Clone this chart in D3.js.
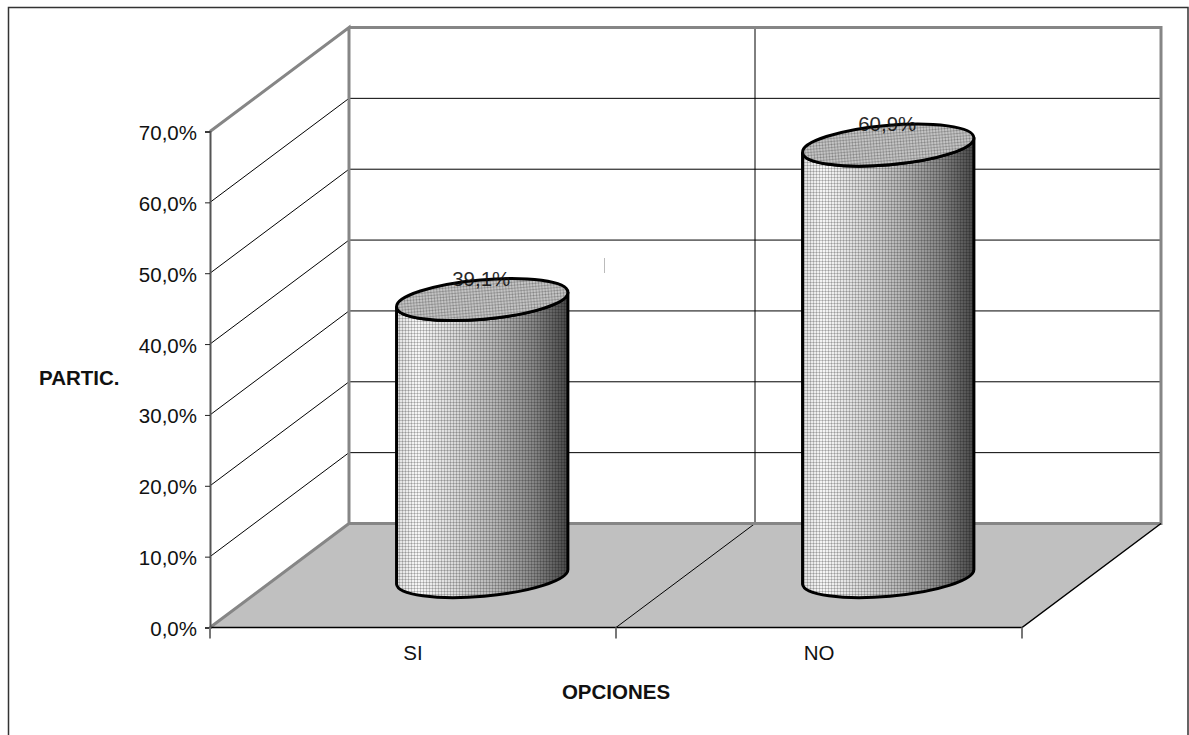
<!DOCTYPE html>
<html>
<head>
<meta charset="utf-8">
<script src="https://cdn.jsdelivr.net/npm/d3@7"></script>
<style>
  html, body { margin: 0; padding: 0; background: #fff; overflow: hidden; }
  svg { display: block; }
  text { font-family: "Liberation Sans", Arial, sans-serif; fill: #111; }
</style>
</head>
<body>
<div id="chart"></div>
<script>
// data
var categories = ["SI", "NO"];
var values = [39.1, 60.9];
var valueLabels = ["39,1%", "60,9%"];
var yTicks = [0, 10, 20, 30, 40, 50, 60, 70];
var yTickLabels = ["0,0%", "10,0%", "20,0%", "30,0%", "40,0%", "50,0%", "60,0%", "70,0%"];
var xTitle = "OPCIONES";
var yTitle = "PARTIC.";

// layout
var totalWidth = 1189, totalHeight = 735;
var x0 = 210, x1 = 1022, y0 = 627.5, y1 = 131.5;
var depthX = 139, depthY = 104;   // offset of the back wall
var midDepth = 0.48;              // where the cylinders stand on the floor
var rx = 86, ry = 19.7, tilt = -5;

var svg = d3.select("#chart").append("svg")
  .attr("width", totalWidth)
  .attr("height", totalHeight);

var xScale = d3.scaleBand().domain(categories).range([x0, x1]);
var yScale = d3.scaleLinear().domain([0, 70]).range([y0, y1]);

// gradients + mesh
var defs = svg.append("defs");

var grad = defs.append("linearGradient").attr("id", "side");
[[0, "#e0e0e0"], [0.12, "#f6f6f6"], [0.35, "#d8d8d8"], [0.6, "#b0b0b0"], [0.8, "#868686"], [1, "#484848"]]
  .forEach(function(s) {
    grad.append("stop").attr("offset", s[0]).attr("stop-color", s[1]);
  });

var mesh = defs.append("pattern").attr("id", "mesh")
  .attr("patternUnits", "userSpaceOnUse")
  .attr("width", 3).attr("height", 3);
mesh.append("rect").attr("width", 3).attr("height", 1).attr("fill", "#000").attr("opacity", 0.19);
mesh.append("rect").attr("width", 1).attr("height", 3).attr("fill", "#000").attr("opacity", 0.19);

// outer frame, no line at the bottom
svg.append("path")
  .attr("d", d3.line()([[8.5, totalHeight], [8.5, 7.5], [1188, 7.5], [1188, totalHeight]]))
  .attr("fill", "none").attr("stroke", "#333").attr("stroke-width", 1.5);

// floor
svg.append("path")
  .attr("d", d3.line()([[x0, y0], [x0 + depthX, y0 - depthY], [x1 + depthX, y0 - depthY], [x1, y0]]) + "Z")
  .attr("fill", "#c0c0c0");

// gridlines on both walls
yTicks.slice(1, -1).forEach(function(t) {
  var y = yScale(t);
  svg.append("path")
    .attr("d", d3.line()([[x0, y], [x0 + depthX, y - depthY], [x1 + depthX, y - depthY]]))
    .attr("fill", "none").attr("stroke", "#000").attr("stroke-width", 1);
});

// category dividers
var midX = xScale(categories[1]);
svg.append("path")
  .attr("d", d3.line()([[midX, y0], [midX + depthX, y0 - depthY], [midX + depthX, y1 - depthY]]))
  .attr("fill", "none").attr("stroke", "#000").attr("stroke-width", 1);

// wall outline
svg.append("path")
  .attr("d", d3.line()([[x0, y0], [x0 + depthX, y0 - depthY], [x0 + depthX, y1 - depthY], [x0, y1]]))
  .attr("fill", "none").attr("stroke", "#868686").attr("stroke-width", 3);
svg.append("path")
  .attr("d", d3.line()([[x0 + depthX, y1 - depthY], [x1 + depthX, y1 - depthY], [x1 + depthX, y0 - depthY], [x0 + depthX, y0 - depthY]]))
  .attr("fill", "none").attr("stroke", "#868686").attr("stroke-width", 3);

// front edges of the floor
svg.append("path")
  .attr("d", d3.line()([[x0, y0], [x1, y0], [x1 + depthX, y0 - depthY]]))
  .attr("fill", "none").attr("stroke", "#000").attr("stroke-width", 1.5);

// y axis
var yAxis = d3.axisLeft(yScale)
  .tickValues(yTicks)
  .tickSize(5)
  .tickFormat(function(d, i) { return yTickLabels[i]; });
var yG = svg.append("g").attr("transform", "translate(" + x0 + ",0)").call(yAxis);
yG.select(".domain").attr("stroke", "#555").attr("stroke-width", 2);
yG.selectAll(".tick line").attr("stroke", "#222");
yG.selectAll(".tick text").attr("x", -13).attr("y", 1.5).attr("font-size", 20.5).attr("font-family", null);

// x axis
var xAxis = d3.axisBottom(xScale).tickSize(0);
var xG = svg.append("g").attr("transform", "translate(0," + y0 + ")").call(xAxis);
xG.select(".domain").remove();
xG.selectAll(".tick text").attr("y", 18).attr("font-size", 20.5).attr("font-family", null);
xScale.domain().concat("end").forEach(function(c) {
  var x = c === "end" ? x1 : xScale(c);
  xG.append("line").attr("x1", x).attr("x2", x).attr("y1", 0).attr("y2", 11)
    .attr("stroke", "#777").attr("stroke-width", 2);
});

// cylinders
var bars = svg.selectAll(".cyl").data(categories).enter().append("g").attr("class", "cyl");

function ellipsePoint(cx, cy, deg) {
  var a = deg * Math.PI / 180, t = tilt * Math.PI / 180;
  var ex = rx * Math.cos(a), ey = ry * Math.sin(a);
  return [cx + ex * Math.cos(t) - ey * Math.sin(t), cy + ex * Math.sin(t) + ey * Math.cos(t)];
}

function sidePath(cx, baseY, topY) {
  var l = ellipsePoint(cx, topY, 180), r = ellipsePoint(cx, topY, 0);
  var lb = ellipsePoint(cx, baseY, 180), rb = ellipsePoint(cx, baseY, 0);
  var arc = "A" + rx + "," + ry + " " + tilt + " 0 ";
  return "M" + l + "L" + lb + arc + "0 " + rb + "L" + r + arc + "1 " + l + "Z";
}

bars.each(function(c, i) {
  var g = d3.select(this);
  var cx = xScale(c) + xScale.bandwidth() / 2 + depthX * midDepth + 2.5;
  var baseY = y0 - depthY * midDepth - 1;
  var topY = baseY - (y0 - yScale(values[i]));
  var d = sidePath(cx, baseY, topY);

  g.append("path").attr("d", d).attr("fill", "url(#side)");
  g.append("path").attr("d", d).attr("fill", "url(#mesh)");
  g.append("path").attr("d", d).attr("fill", "none").attr("stroke", "#000").attr("stroke-width", 3);

  var cap = function() {
    return g.append("ellipse")
      .attr("rx", rx).attr("ry", ry)
      .attr("transform", "translate(" + cx + "," + topY + ") rotate(" + tilt + ")");
  };
  cap().attr("fill", "#c4c4c4");
  cap().attr("fill", "url(#mesh)");
  cap().attr("fill", "none").attr("stroke", "#000").attr("stroke-width", 3);

  g.append("text")
    .attr("x", cx - 1).attr("y", topY - 14)
    .attr("text-anchor", "middle").attr("font-size", 20.5)
    .attr("opacity", 0.9)
    .text(valueLabels[i]);
});

// titles
svg.append("text").attr("x", (x0 + x1) / 2).attr("y", 699)
  .attr("text-anchor", "middle").attr("font-size", 20.5).attr("font-weight", "bold").text(xTitle);
svg.append("text").attr("x", 39).attr("y", 385)
  .attr("font-size", 20.5).attr("font-weight", "bold").text(yTitle);

// stray tick left in the middle of the source picture
svg.append("line").attr("x1", 604.5).attr("x2", 604.5).attr("y1", 258).attr("y2", 273)
  .attr("stroke", "#bbb").attr("stroke-width", 1);
</script>
</body>
</html>
